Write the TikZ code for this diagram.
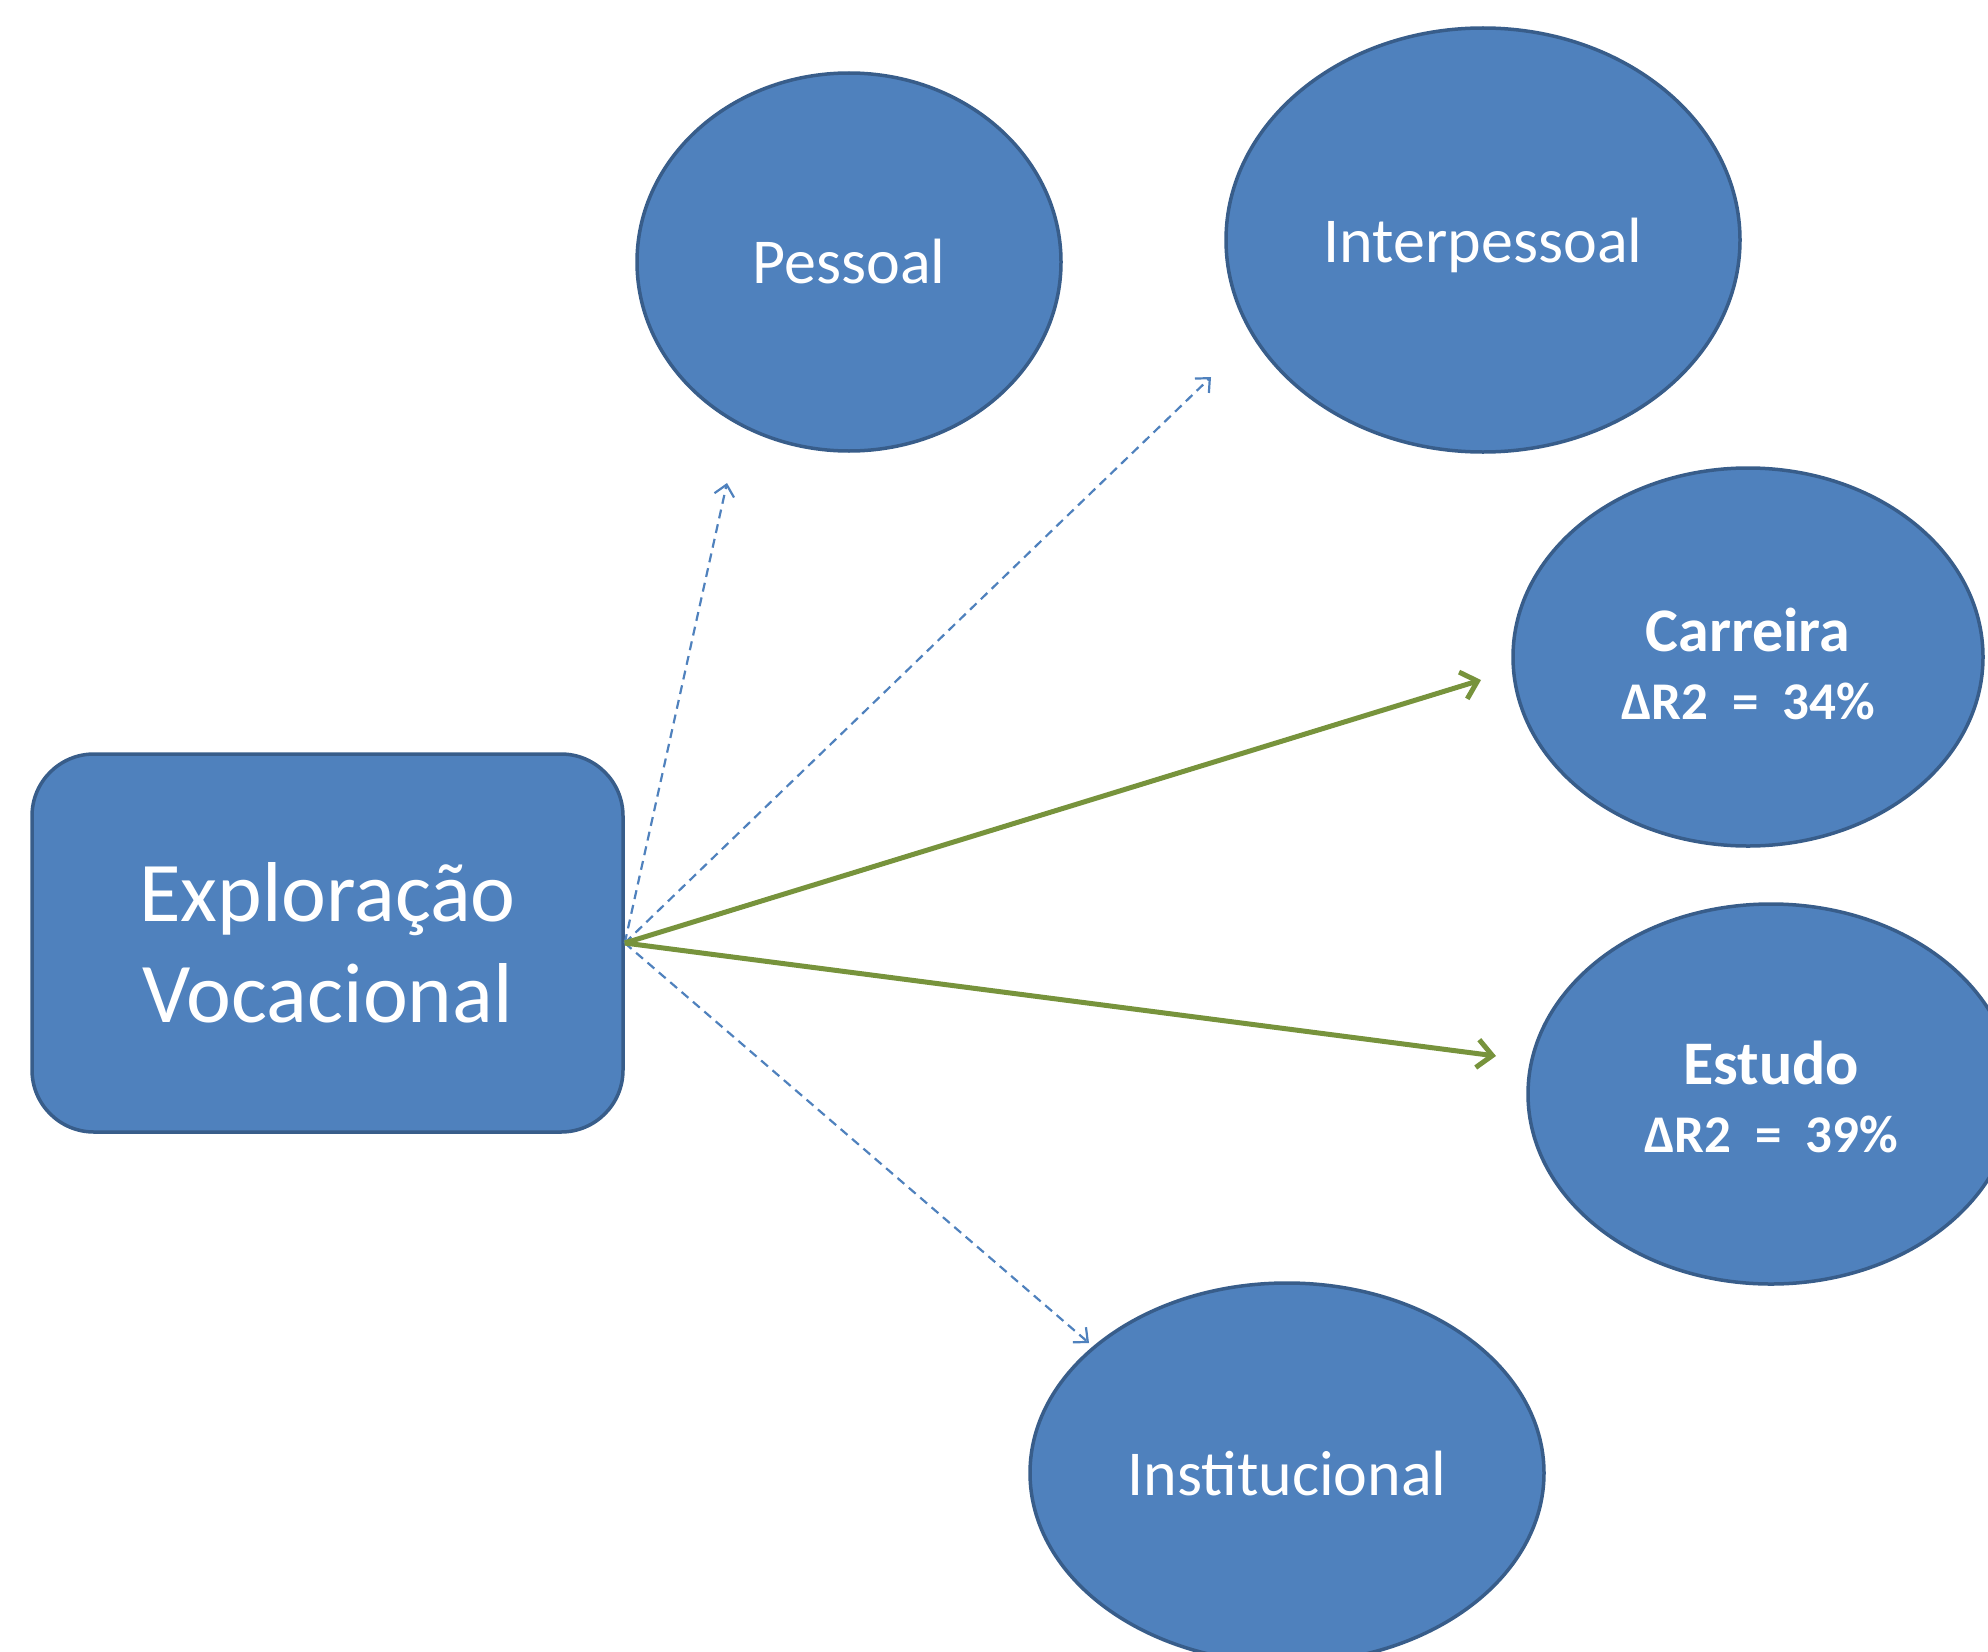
\documentclass[tikz,border=0pt]{standalone}
\usepackage{fontspec}
\setmainfont{Carlito}
\usetikzlibrary{shapes.geometric,arrows.meta}
\definecolor{fillblue}{HTML}{4F81BD}
\definecolor{edgeblue}{HTML}{385D8A}
\definecolor{arrgreen}{HTML}{77933C}
\tikzset{
  blob/.style={ellipse, fill=fillblue, draw=edgeblue, line width=3.5pt, inner sep=0pt, text=white, align=center},
  mainbox/.style={rectangle, rounded corners=62pt, fill=fillblue, draw=edgeblue, line width=3.5pt, text=white, align=center, inner sep=0pt},
  regtext/.style={font=\fontsize{64}{76}\selectfont},
  boldtext/.style={text=white, align=center, inner sep=0pt, font=\bfseries\fontsize{62}{68}\selectfont},
  dasharrow/.style={draw=fillblue, line width=2.2pt, dash pattern=on 9pt off 6pt, -{Straight Barb[length=11pt,width=20pt,line width=2.2pt]}},
  greenarrow/.style={draw=arrgreen, line width=5pt, -{Straight Barb[length=15pt,width=28pt,line width=5pt]}}
}
\begin{document}
\begin{tikzpicture}[x=1pt,y=-1pt]
\useasboundingbox (0,0) rectangle (1988,1651);
\node[mainbox, minimum width=591pt, minimum height=378pt, font=\fontsize{85}{101}\selectfont] (box) at (327.5,943) {Exploração\\Vocacional};
\node[blob, minimum width=424pt, minimum height=378pt, regtext] (pes) at (849,262) {Pessoal};
\node[blob, minimum width=514pt, minimum height=424pt, regtext] (inter) at (1483,240) {\raisebox{-5pt}[\height][\depth]{Interpessoal}};
\node[blob, minimum width=470pt, minimum height=378pt] (car) at (1748,657) {};
\node[boldtext] (cartext) at (1748,664) {Carreira\\{\fontsize{53}{60}\selectfont ΔR2\ \ =\ \ 34\%}};
\node[blob, minimum width=486pt, minimum height=380pt] (est) at (1771,1094) {};
\node[boldtext] (esttext) at (1771,1097) {Estudo\\{\fontsize{53}{60}\selectfont ΔR2\ \ =\ \ 39\%}};
\node[blob, minimum width=514pt, minimum height=380pt, regtext] (inst) at (1287,1473) {Institucional};
\coordinate (tpes) at (727,483);
\coordinate (tinter) at (1211,377);
\coordinate (tcar) at (1481,680);
\coordinate (test) at (1496,1056);
\coordinate (tinst) at (1089,1343);
\draw[dasharrow] (box.east) -- (tpes);
\draw[dasharrow] (box.east) -- (tinter);
\draw[dasharrow] (box.east) -- (tinst);
\draw[greenarrow] (box.east) -- (tcar);
\draw[greenarrow] (box.east) -- (test);
\end{tikzpicture}
\end{document}
